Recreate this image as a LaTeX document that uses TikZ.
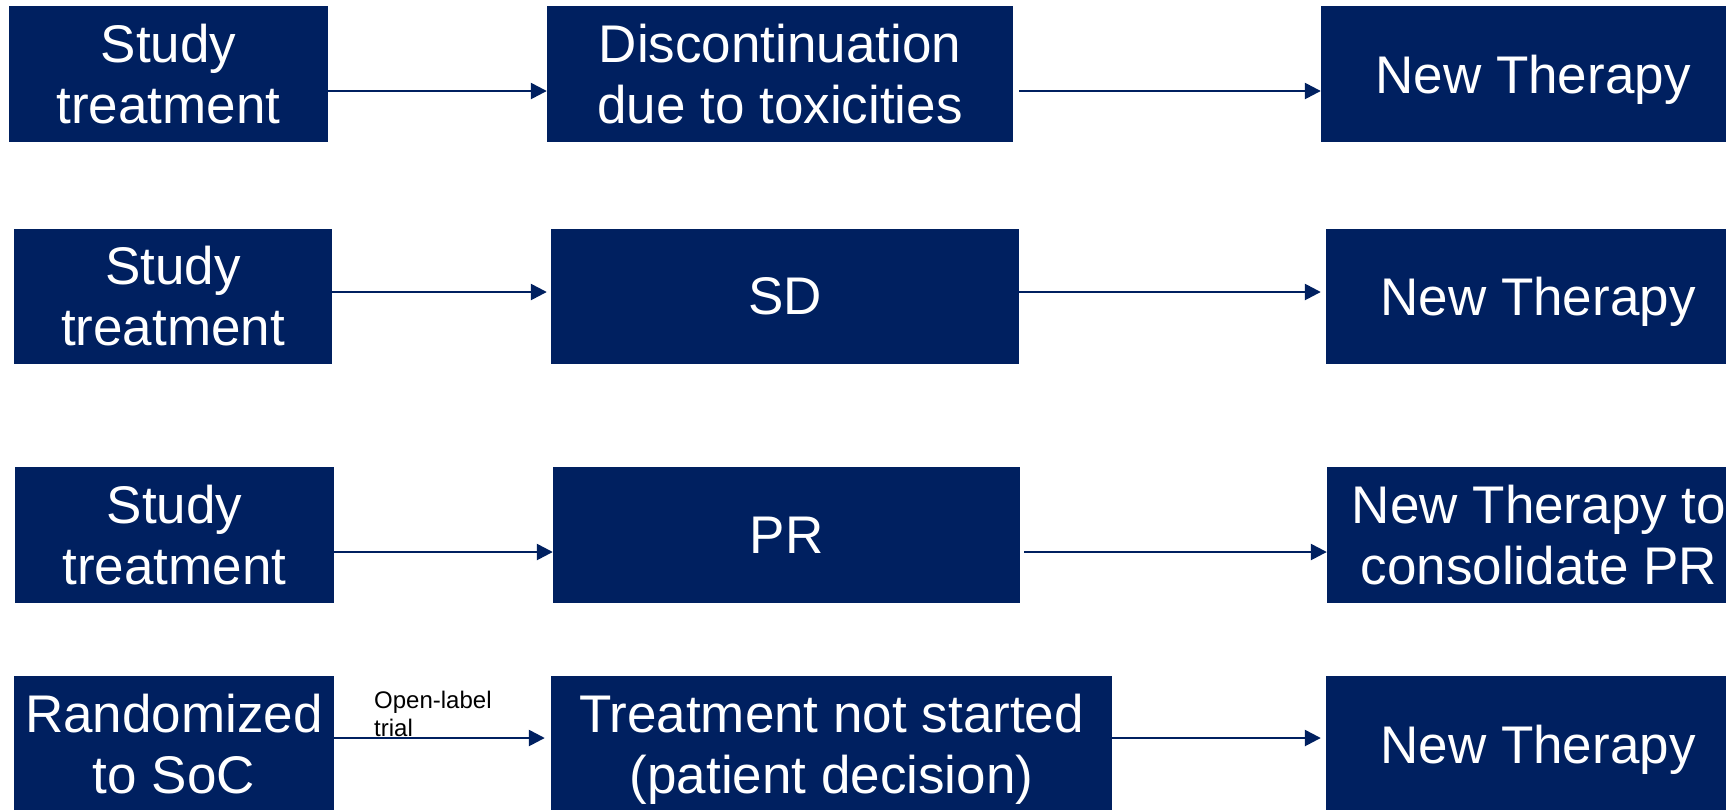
\documentclass[tikz,border=0pt]{standalone}
\usepackage{fontspec}
\setmainfont{Liberation Sans}
\usepackage{tikz}
\usetikzlibrary{arrows.meta, positioning}
\definecolor{navy}{RGB}{0,32,96}

\begin{document}
\begin{tikzpicture}[x=1pt, y=1pt,
  phase/.style={fill=navy, text=white, inner sep=0pt, minimum height=136pt,
    align=center, font=\fontsize{53}{61}\selectfont},
  low/.style={text depth=0pt},
  flow/.style={draw=navy, line width=2.5pt, -{Triangle[length=16pt,width=16pt]}}]
  % page frame; boxes on the right run past the edge
  \useasboundingbox (0,0) rectangle (1726,-809);
  \clip (0,0) rectangle (1726,-809);
  % row 1: toxicities
  \node[phase, minimum width=319pt] (start1) at (168.5,-74) {Study\\treatment};
  \node[phase, minimum width=466pt] (event1) at (780,-74)   {Discontinuation\\due to toxicities};
  \node[phase, low, minimum width=424pt] (next1) at (1533,-74) {New Therapy};
  % row 2: stable disease
  \node[phase, minimum width=318pt, minimum height=135pt] (start2) at (173,-296.5) {Study\\treatment};
  \node[phase, minimum width=468pt, minimum height=135pt] (event2) at (785,-296.5) {SD};
  \node[phase, low, minimum width=424pt, minimum height=135pt] (next2) at (1538,-296.5) {New Therapy};
  % row 3: partial response
  \node[phase, minimum width=319pt] (start3) at (174.5,-535) {Study\\treatment};
  \node[phase, minimum width=467pt] (event3) at (786.5,-535) {PR};
  \node[phase, minimum width=424pt] (next3)  at (1539,-535)  {New Therapy to\\consolidate PR};
  % row 4: standard of care arm
  \node[phase, minimum width=320pt] (start4) at (174,-744) {Randomized\\to SoC};
  \node[phase, low, minimum width=561pt] (event4) at (831.5,-744) {Treatment not started\\(patient decision)};
  \node[phase, low, minimum width=424pt] (next4) at (1538,-744) {New Therapy};
  % connectors (they sit a little off the box centres)
  \draw[flow] ([yshift=-17pt]start1.east) -- ([yshift=-17pt]event1.west);
  \draw[flow, shorten <=6pt] ([yshift=-17pt]event1.east) -- ([yshift=-17pt]next1.west);
  \draw[flow, shorten >=4pt] ([yshift=4.5pt]start2.east) -- ([yshift=4.5pt]event2.west);
  \draw[flow, shorten >=5pt] ([yshift=4.5pt]event2.east) -- ([yshift=4.5pt]next2.west);
  \draw[flow] ([yshift=-17pt]start3.east) -- ([yshift=-17pt]event3.west);
  \draw[flow, shorten <=4pt] ([yshift=-17pt]event3.east) -- ([yshift=-17pt]next3.west);
  \draw[flow, shorten >=6pt] ([yshift=6pt]start4.east) -- ([yshift=6pt]event4.west);
  \draw[flow, shorten >=5pt] ([yshift=6pt]event4.east) -- ([yshift=6pt]next4.west);
  % arm label
  \node[anchor=north west, inner sep=0pt, align=left,
    font=\fontsize{24}{28}\selectfont] (openlabel) at (374,-691) {Open-label\\trial};
\end{tikzpicture}
\end{document}
